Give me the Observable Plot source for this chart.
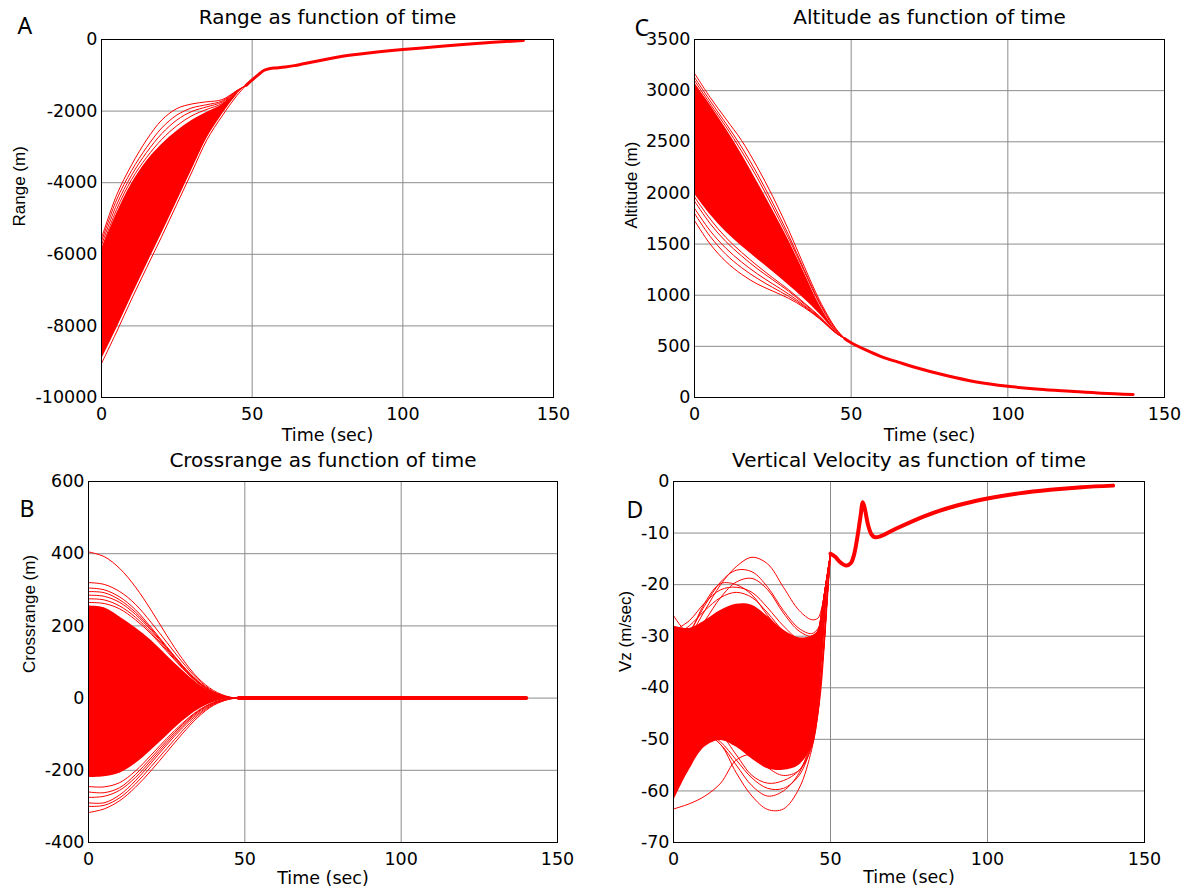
<!DOCTYPE html>
<html><head><meta charset="utf-8">
<script src="https://cdn.jsdelivr.net/npm/d3@7"></script>
<script src="https://cdn.jsdelivr.net/npm/@observablehq/plot@0.6"></script>
<style>
body{margin:0;background:#fff;}
#chart{position:relative;width:1186px;height:890px;overflow:hidden;background:#fff;}
#chart svg{position:absolute;overflow:visible;}
</style></head><body><div id="chart"></div>
<script>
// ---------- shared ----------
const timeTicks = [0, 50, 100, 150];

// ---------- Panel A: Range ----------
const rangeTicksA = [-10000, -8000, -6000, -4000, -2000, 0];
const timeBandA = [0, 5, 10, 15, 20, 25, 30, 35, 40, 45, 48];
const rangeBandHighA = [-5900, -4870, -4030, -3400, -2930, -2560, -2260, -2030, -1820, -1480, -1280];
const rangeBandLowA = [-8950, -8080, -7170, -6290, -5420, -4530, -3640, -2760, -2100, -1540, -1280];
const rangeLinesA = [
  [-5550, -4350, -3500, -2800, -2250, -1930, -1800, -1740, -1680, -1420, -1280],
  [-5650, -4480, -3660, -3010, -2470, -2110, -1910, -1820, -1720, -1430, -1280],
  [-5750, -4620, -3790, -3150, -2630, -2250, -2010, -1880, -1750, -1440, -1280],
  [-5850, -4750, -3910, -3290, -2790, -2410, -2130, -1950, -1790, -1450, -1280],
  [-9050, -8170, -7250, -6370, -5500, -4600, -3700, -2800, -2140, -1560, -1280]
];
const timeTailA = [48, 50, 52, 54, 56, 58, 61, 64, 67, 70, 80, 90, 100, 110, 120, 130, 140];
const rangeTailA = [-1280, -1130, -990, -860, -810, -795, -770, -730, -680, -630, -470, -365, -280, -210, -140, -80, -25];

// ---------- Panel C: Altitude ----------
const altTicksC = [0, 500, 1000, 1500, 2000, 2500, 3000, 3500];
const timeBandC = [0, 5, 10, 15, 20, 25, 30, 35, 40, 45, 48];
const altBandHighC = [3080, 2860, 2630, 2380, 2110, 1830, 1540, 1220, 900, 660, 575];
const altBandLowC = [1990, 1790, 1620, 1480, 1355, 1230, 1100, 965, 815, 645, 575];
const altLinesC = [
  [3170, 2934, 2724, 2514, 2255, 1964, 1640, 1284, 945, 680, 575],
  [3130, 2900, 2680, 2450, 2190, 1900, 1590, 1250, 925, 670, 575],
  [3100, 2870, 2650, 2410, 2150, 1860, 1560, 1235, 912, 665, 575],
  [1730, 1500, 1330, 1205, 1110, 1040, 970, 880, 767, 632, 575],
  [1800, 1575, 1400, 1270, 1165, 1075, 990, 890, 772, 634, 575],
  [1850, 1630, 1460, 1325, 1210, 1110, 1012, 900, 777, 636, 575],
  [1920, 1700, 1525, 1385, 1260, 1150, 1040, 915, 785, 638, 575],
  [1960, 1745, 1565, 1420, 1290, 1170, 1055, 925, 792, 640, 575]
];
const timeTailC = [48, 50, 55, 60, 65, 70, 80, 90, 100, 110, 120, 130, 140];
const altTailC = [575, 535, 460, 395, 346, 298, 217, 152, 110, 81, 61, 42, 29];

// ---------- Panel B: Crossrange ----------
const crossTicksB = [-400, -200, 0, 200, 400, 600];
const timeBandB = [0, 5, 10, 15, 20, 25, 30, 35, 40, 45, 48];
const crossBandHighB = [255, 250, 225, 195, 160, 118, 77, 40, 14, 2, 0];
const crossBandLowB = [-220, -218, -208, -182, -145, -105, -65, -33, -12, -2, 0];
const crossLinesB = [
  [405, 392, 359, 308, 244, 174, 109, 56, 21, 3, 0],
  [320, 315, 295, 260, 210, 155, 100, 52, 18, 3, 0],
  [305, 300, 280, 245, 196, 143, 91, 47, 16, 2, 0],
  [295, 292, 272, 238, 192, 140, 90, 46, 16, 2, 0],
  [285, 282, 265, 232, 188, 138, 88, 45, 15, 2, 0],
  [275, 272, 255, 224, 182, 134, 85, 44, 15, 2, 0],
  [265, 262, 247, 217, 178, 130, 83, 42, 14, 2, 0],
  [-317, -307, -284, -247, -201, -150, -99, -53, -20, -3, 0],
  [-300, -297, -276, -238, -190, -140, -91, -48, -18, -3, 0],
  [-290, -290, -268, -229, -180, -130, -83, -44, -16, -2, 0],
  [-275, -272, -255, -220, -173, -124, -78, -40, -14, -2, 0],
  [-260, -262, -248, -212, -166, -118, -74, -37, -13, -2, 0],
  [-245, -246, -234, -202, -158, -112, -70, -35, -12, -1, 0]
];
const timeTailB = [48, 140];
const crossTailB = [0, 0];

// ---------- Panel D: Vertical velocity ----------
const vzTicksD = [-70, -60, -50, -40, -30, -20, -10, 0];
const timeBandD = [0, 5, 10, 15, 20, 25, 30, 35, 40, 44, 46, 47, 48, 49, 50];
const vzBandHighD = [-28, -28.5, -27, -25, -23.8, -24, -26.2, -28.8, -30.3, -30, -29, -26, -22, -18, -14];
const vzBandLowD = [-62, -56, -51.5, -50.2, -51.5, -53.8, -55.7, -56, -55, -51.5, -45, -38, -30.8, -22, -14];
const vzLinesD = [
  [-33, -30, -25, -20, -16.5, -14.7, -16, -20.5, -25, -26.8, -26.5, -25, -22, -18, -14],
  [-31, -29, -24, -19.5, -17.2, -17.5, -20.5, -25, -28.5, -29.5, -28.5, -26.5, -22, -18, -14],
  [-36, -30, -23.5, -19.8, -20, -22, -26, -29.5, -31.5, -31, -29.5, -27, -22, -18, -14],
  [-33, -31, -27, -22.5, -19.5, -18.8, -21, -25.5, -29, -30, -29, -27, -22, -18, -14],
  [-30, -28, -25, -22.5, -21.5, -22.5, -25.5, -29, -31, -30.5, -29, -26, -22, -18, -14],
  [-29, -27, -23.5, -21, -20.5, -21.5, -24.5, -28, -30.5, -30, -29, -26.5, -22, -18, -14],
  [-26, -29.5, -29, -27, -25, -24.5, -26.5, -29, -30.5, -30, -29, -26, -22, -18, -14],
  [-58, -52, -49, -51, -56.5, -61, -63.6, -63.5, -59.5, -52, -45, -40, -32, -23, -14],
  [-60, -53, -49, -51, -55, -59, -61, -60, -56.5, -50, -44, -38, -31, -22, -14],
  [-63.5, -62.5, -61, -58.5, -54, -53, -55.5, -57, -56, -51.5, -45, -38, -31, -22, -14],
  [-55, -50, -48.5, -50.5, -54, -57.5, -59.5, -59.5, -57, -51, -44.5, -38, -31, -22, -14],
  [-57, -51, -47.5, -49, -53, -57, -58.5, -58, -56, -51, -44.5, -38, -31, -22, -14]
];
const timeTailD = [50, 51.5, 53, 55, 56.5, 57.5, 58.5, 59.5, 60.3, 61, 62, 63, 64, 66, 70, 80, 90, 100, 110, 120, 130, 140];
const vzTailD = [-14, -14.6, -15.6, -16.3, -15.8, -14.2, -11, -7, -4, -5.5, -8.5, -10.2, -10.8, -10.6, -9.4, -6.7, -4.7, -3.3, -2.3, -1.6, -1.1, -0.8];

// ---------- builders ----------
const RED = "#ff0000";
const GRID = "#8c8c8c";

function bandRows(t, hi, lo) { return t.map((d, i) => ({t: d, hi: hi[i], lo: lo[i]})); }
function seriesRows(t, list) {
  const out = [];
  list.forEach((vals, k) => vals.forEach((v, i) => out.push({t: t[i], v, id: k})));
  return out;
}
function tailRows(t, v) { return t.map((d, i) => ({t: d, v: v[i]})); }

function makePanel(c) {
  const svg = Plot.plot({
    width: c.w, height: c.h,
    marginLeft: c.ml, marginRight: c.mr, marginTop: c.mt, marginBottom: c.mb,
    x: {domain: [0, 150]},
    y: {domain: c.yDomain},
    style: {fontFamily: "DejaVu Sans", fontSize: "17.5px", color: "black", background: "transparent"},
    marks: [
      Plot.gridX({ticks: [50, 100], stroke: GRID, strokeOpacity: 1, strokeWidth: 1}),
      Plot.gridY({ticks: c.yTicks, stroke: GRID, strokeOpacity: 1, strokeWidth: 1}),
      Plot.areaY(c.band, {x: "t", y1: "lo", y2: "hi", fill: RED, curve: "catmull-rom"}),
      Plot.line(c.lines, {x: "t", y: "v", z: "id", stroke: RED, strokeWidth: 1, curve: "catmull-rom"}),
      Plot.line(c.tail, {x: "t", y: "v", stroke: RED, strokeWidth: c.tailWidth, curve: "catmull-rom"}),
      Plot.axisX({ticks: timeTicks, tickSize: 0, tickPadding: 10, tickFormat: d => String(d), label: null, fontSize: 17.5}),
      Plot.axisY({ticks: c.yTicks, tickSize: 0, tickPadding: 4, tickFormat: d => String(d), label: null, fontSize: 17.5}),
      Plot.frame({stroke: "black", strokeWidth: 1}),
      Plot.text([c.title], {text: d => d, frameAnchor: "top", dy: c.titleDy, lineAnchor: "bottom", fontSize: 20, fontFamily: "DejaVu Sans", fill: "black"}),
      Plot.text(["Time (sec)"], {text: d => d, frameAnchor: "bottom", dy: c.xlabelDy, lineAnchor: "top", fontSize: 17.5, fontFamily: "DejaVu Sans", fill: "black"}),
      Plot.text([c.ylabel], {text: d => d, frameAnchor: "left", dx: c.ylabelDx, dy: c.ylabelDy, rotate: -90, lineAnchor: "middle", fontSize: 17, fontFamily: "Liberation Sans", fill: "black"}),
      Plot.text([c.letter], {text: d => d, frameAnchor: "top-left", textAnchor: "start", lineAnchor: "bottom", dx: c.letterDx, dy: c.letterDy, fontSize: 23, fontFamily: "Noto Sans", fill: "black"})
    ]
  });
  svg.style.left = c.left + "px";
  svg.style.top = c.top + "px";
  document.getElementById("chart").appendChild(svg);
}

makePanel({
  left: 0, top: 0, w: 593, h: 450, ml: 101, mr: 40, mt: 39, mb: 53,
  yDomain: [-10000, 0], yTicks: rangeTicksA,
  band: bandRows(timeBandA, rangeBandHighA, rangeBandLowA),
  lines: seriesRows(timeBandA, rangeLinesA),
  tail: tailRows(timeTailA, rangeTailA), tailWidth: 3,
  title: "Range as function of time", titleDy: -16,
  xlabelDy: 31, ylabel: "Range (m)", ylabelDx: -82, ylabelDy: 8,
  letter: "A", letterDx: -84, letterDy: -6
});
makePanel({
  left: 593, top: 0, w: 593, h: 450, ml: 101, mr: 22, mt: 39, mb: 53,
  yDomain: [0, 3500], yTicks: altTicksC,
  band: bandRows(timeBandC, altBandHighC, altBandLowC),
  lines: seriesRows(timeBandC, altLinesC),
  tail: tailRows(timeTailC, altTailC), tailWidth: 3,
  title: "Altitude as function of time", titleDy: -16,
  xlabelDy: 31, ylabel: "Altitude (m)", ylabelDx: -63, ylabelDy: 10,
  letter: "C", letterDx: -60, letterDy: -4
});
makePanel({
  left: 0, top: 440, w: 593, h: 450, ml: 88, mr: 36, mt: 41, mb: 48,
  yDomain: [-400, 600], yTicks: crossTicksB,
  band: bandRows(timeBandB, crossBandHighB, crossBandLowB),
  lines: seriesRows(timeBandB, crossLinesB),
  tail: tailRows(timeTailB, crossTailB), tailWidth: 4,
  title: "Crossrange as function of time", titleDy: -15,
  xlabelDy: 29, ylabel: "Crossrange (m)", ylabelDx: -59, ylabelDy: 11,
  letter: "B", letterDx: -69, letterDy: 35
});
makePanel({
  left: 593, top: 440, w: 593, h: 450, ml: 80, mr: 42, mt: 41, mb: 48,
  yDomain: [-70, 0], yTicks: vzTicksD,
  band: bandRows(timeBandD, vzBandHighD, vzBandLowD),
  lines: seriesRows(timeBandD, vzLinesD),
  tail: tailRows(timeTailD, vzTailD), tailWidth: 4,
  title: "Vertical Velocity as function of time", titleDy: -15,
  xlabelDy: 28, ylabel: "Vz (m/sec)", ylabelDx: -48, ylabelDy: 10,
  letter: "D", letterDx: -47, letterDy: 36
});
</script></body></html>
